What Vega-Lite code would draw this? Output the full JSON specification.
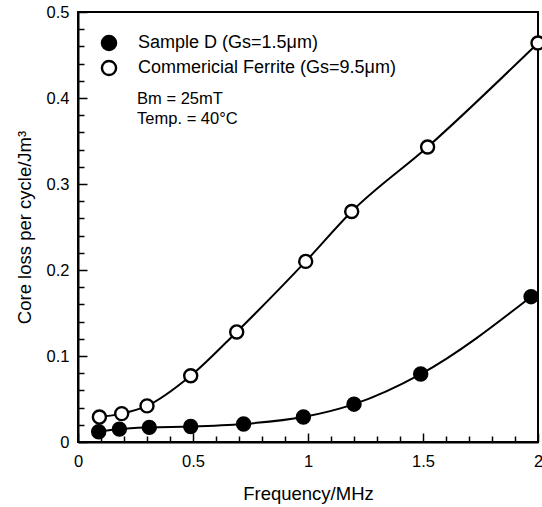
{
  "$schema": "https://vega.github.io/schema/vega-lite/v6.json",
  "width": 460,
  "height": 430,
  "autosize": {"type": "none"},
  "padding": {"left": 78, "top": 12, "right": 4, "bottom": 65},
  "background": "white",
  "config": {
    "font": "Liberation Sans",
    "view": {"stroke": "black", "strokeWidth": 2},
    "axis": {
      "domainColor": "black",
      "domainWidth": 2,
      "tickColor": "black",
      "tickWidth": 1.5,
      "labelColor": "black",
      "titleColor": "black",
      "labelFontSize": 16.5,
      "titleFontSize": 18.5,
      "titleFontWeight": "normal",
      "labelOverlap": false,
      "grid": false
    },
    "legend": {
      "labelFontSize": 18,
      "labelColor": "black",
      "labelLimit": 0,
      "symbolStrokeColor": "black",
      "symbolStrokeWidth": 2.4,
      "symbolSize": 200,
      "symbolType": "circle",
      "rowPadding": 1,
      "labelOffset": 20
    }
  },
  "datasets": {
    "pts": [
      {"series": "Sample D (Gs=1.5μm)", "f": 0.09, "loss": 0.012},
      {"series": "Sample D (Gs=1.5μm)", "f": 0.18, "loss": 0.015},
      {"series": "Sample D (Gs=1.5μm)", "f": 0.31, "loss": 0.017},
      {"series": "Sample D (Gs=1.5μm)", "f": 0.49, "loss": 0.018},
      {"series": "Sample D (Gs=1.5μm)", "f": 0.72, "loss": 0.021},
      {"series": "Sample D (Gs=1.5μm)", "f": 0.98, "loss": 0.029},
      {"series": "Sample D (Gs=1.5μm)", "f": 1.2, "loss": 0.044},
      {"series": "Sample D (Gs=1.5μm)", "f": 1.49, "loss": 0.079},
      {"series": "Sample D (Gs=1.5μm)", "f": 1.97, "loss": 0.169},
      {"series": "Commericial Ferrite (Gs=9.5μm)", "f": 0.093, "loss": 0.029},
      {"series": "Commericial Ferrite (Gs=9.5μm)", "f": 0.19, "loss": 0.033},
      {"series": "Commericial Ferrite (Gs=9.5μm)", "f": 0.3, "loss": 0.042},
      {"series": "Commericial Ferrite (Gs=9.5μm)", "f": 0.49, "loss": 0.077},
      {"series": "Commericial Ferrite (Gs=9.5μm)", "f": 0.69, "loss": 0.128},
      {"series": "Commericial Ferrite (Gs=9.5μm)", "f": 0.99, "loss": 0.21},
      {"series": "Commericial Ferrite (Gs=9.5μm)", "f": 1.19, "loss": 0.268},
      {"series": "Commericial Ferrite (Gs=9.5μm)", "f": 1.52, "loss": 0.343},
      {"series": "Commericial Ferrite (Gs=9.5μm)", "f": 2.0, "loss": 0.464}
    ]
  },
  "layer": [
    {
      "data": {"name": "pts"},
      "mark": {"type": "line", "color": "black", "strokeWidth": 2, "interpolate": "monotone"},
      "encoding": {
        "x": {
          "field": "f", "type": "quantitative",
          "scale": {"domain": [0, 2], "nice": false},
          "title": "Frequency/MHz",
          "axis": {
            "values": [0,0.1,0.2,0.3,0.4,0.5,0.6,0.7,0.8,0.9,1,1.1,1.2,1.3,1.4,1.5,1.6,1.7,1.8,1.9,2],
            "tickCount": 50,
            "labelExpr": "abs(datum.value*2 - round(datum.value*2)) < 0.001 ? format(datum.value, '~g') : ''",
            "labelOverlap": false,
            "labelBound": false,
            "labelFlush": false,
            "tickSize": {"condition": {"test": "abs(datum.value*2 - round(datum.value*2)) < 0.001", "value": -9}, "value": -6},
            "labelPadding": 20,
            "titlePadding": 12
          }
        },
        "y": {
          "field": "loss", "type": "quantitative",
          "scale": {"domain": [0, 0.5], "nice": false},
          "title": "Core loss per cycle/Jm³",
          "axis": {
            "values": [0,0.02,0.04,0.06,0.08,0.1,0.12,0.14,0.16,0.18,0.2,0.22,0.24,0.26,0.28,0.3,0.32,0.34,0.36,0.38,0.4,0.42,0.44,0.46,0.48,0.5],
            "tickCount": 50,
            "labelExpr": "abs(datum.value*10 - round(datum.value*10)) < 0.001 ? format(datum.value, '~g') : ''",
            "labelOverlap": false,
            "labelBound": false,
            "labelFlush": false,
            "tickSize": {"condition": {"test": "abs(datum.value*10 - round(datum.value*10)) < 0.001", "value": -9}, "value": -6},
            "labelPadding": 18,
            "titlePadding": 12
          }
        },
        "detail": {"field": "series"}
      }
    },
    {
      "data": {"name": "pts"},
      "mark": {"type": "point", "filled": false, "stroke": "black", "strokeWidth": 2.4, "size": 170, "opacity": 1},
      "encoding": {
        "x": {"field": "f", "type": "quantitative"},
        "y": {"field": "loss", "type": "quantitative"},
        "fill": {
          "field": "series", "type": "nominal",
          "scale": {"domain": ["Sample D (Gs=1.5μm)", "Commericial Ferrite (Gs=9.5μm)"], "range": ["black", "white"]},
          "legend": {"title": null, "orient": "none", "legendX": 22, "legendY": 22}
        }
      }
    },
    {
      "data": {"values": [{}]},
      "mark": {"type": "text", "text": ["Bm = 25mT", "Temp. = 40°C"], "align": "left", "baseline": "top", "fontSize": 16.5, "lineHeight": 20, "color": "black"},
      "encoding": {
        "x": {"datum": 0.257},
        "y": {"datum": 0.408}
      }
    }
  ]
}
